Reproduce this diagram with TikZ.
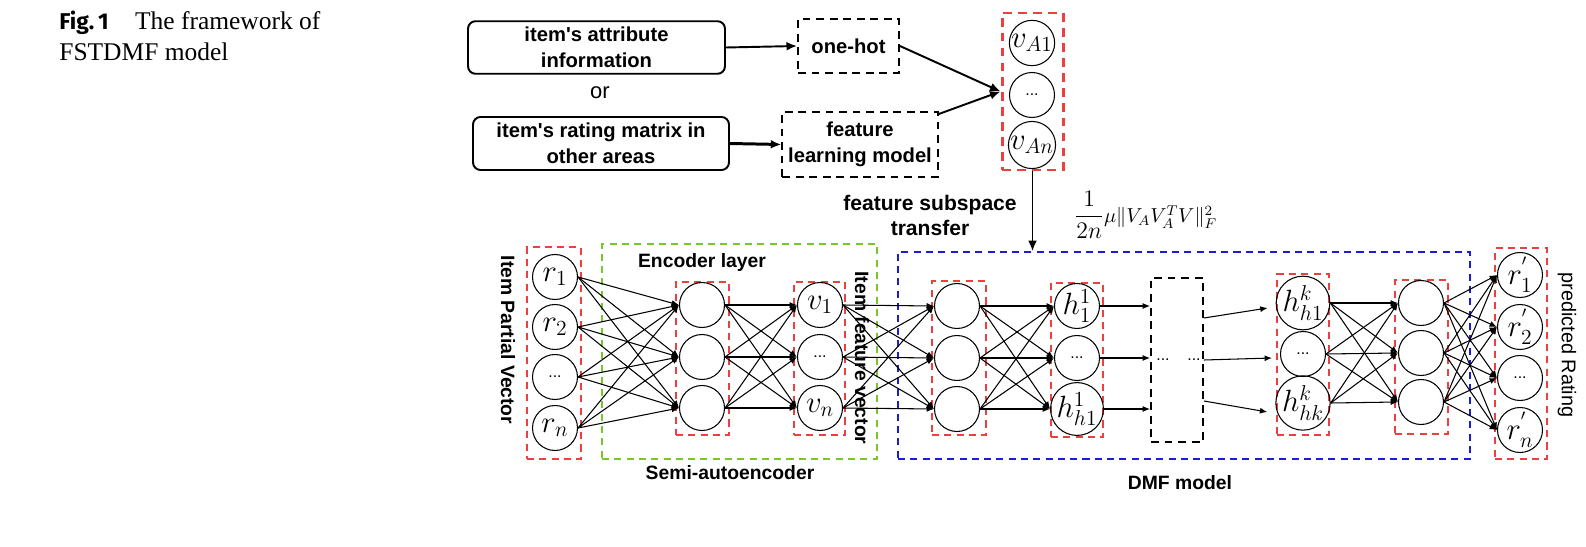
\RequirePackage{fix-cm}
\documentclass[tikz,border=0pt]{standalone}
\usepackage{amsmath}
\usepackage{fontspec}
\setmainfont{Liberation Serif}
\setsansfont{Liberation Sans}
\newfontfamily\figfont{Fira Sans}
\usepackage{xcolor}
\usepackage{tikz}
\usetikzlibrary{arrows.meta}
\usetikzlibrary{calc, fit}
\definecolor{grpred}{RGB}{236,64,64}
\definecolor{grpgreen}{RGB}{118,200,40}
\definecolor{grpblue}{RGB}{28,28,210}
\newcommand{\ndots}{{\sffamily\fontsize{9}{10}\selectfont...}}
\newcommand{\apos}{\textquotesingle}
\tikzset{
  neuron/.style={circle, draw, line width=0.6pt, minimum size=0.9cm, inner sep=0pt, font=\fontsize{17.5}{20}\selectfont},
  arr/.style={line width=0.6pt, -{Latex[length=4.2pt, width=3.4pt]}},
  toparr/.style={line width=1.1pt, -{Latex[length=6pt, width=5pt]}},
  txtbox/.style={draw, rounded corners=0.15cm, line width=1.1pt, align=center, font=\sffamily\bfseries\fontsize{11.5}{14.8}\selectfont},
  dashbox/.style={draw, dash pattern=on 4.5pt off 3.2pt, line width=1.1pt, align=center, font=\sffamily\bfseries\fontsize{11.5}{14.8}\selectfont},
  grp/.style={draw, dash pattern=on 4pt off 3pt, line width=1pt, inner sep=0pt},
  lbl/.style={font=\sffamily\bfseries\fontsize{11}{13}\selectfont, align=center},
}

\begin{document}
\begin{tikzpicture}[x=0.02cm, y=-0.02cm]
\useasboundingbox (0,0) rectangle (1586,547);
% caption
\node[anchor=base west, inner sep=0pt, font=\fontsize{14.5}{17.6}\selectfont] (cap1) at (59,30) {{\figfont\bfseries\fontsize{13}{15}\selectfont Fig.\,1}\hspace{15pt}The framework of};
\node[anchor=base west, inner sep=0pt, font=\fontsize{14.5}{17.6}\selectfont] (cap2) at (59,61) {FSTDMF model};
% input sources
\node[txtbox, minimum width=5.14cm, minimum height=1.02cm] (attr) at (596.5,47.5) {item\apos s attribute\\information};
\node[font=\sffamily\fontsize{12.5}{14}\selectfont] (or) at (600,93) {or};
\node[txtbox, minimum width=5.12cm, minimum height=1.06cm] (rate) at (601,143.5) {item\apos s rating matrix in\\other areas};
\node[dashbox, minimum width=2.02cm, minimum height=1.08cm] (onehot) at (848.5,46) {one-hot};
\node[dashbox, minimum width=3.08cm, minimum height=1.3cm] (flm) at (860,144.5) {feature\\learning model};
\draw[toparr] (attr.east) -- (onehot.west);
\draw[toparr, line width=1.7pt] (rate.east) -- (flm.west);
% item feature subspace
\node[grp, draw=grpred, line width=1.7pt, dash pattern=on 5pt off 3.5pt, fit={(1002,13) (1063,170)}] (va) {};
\foreach \y/\t [count=\i] in {43/{$v_{A1}$}, 95/{\ndots}, 145/{$v_{An}$}}
  \node[neuron] (va-\i) at (1032,\y) {\t};
\draw[toparr] (onehot.east) -- (va.west);
\draw[toparr] ($(flm.north east)+(0,3)$) -- (va.west);
\node[lbl, font=\sffamily\bfseries\fontsize{12}{14.2}\selectfont] (fst) at (930,215) {feature subspace\\transfer};
\node[anchor=west, inner sep=0pt] (loss) at (1074,215) {{\fontsize{13.5}{15}\selectfont$\displaystyle\frac{1}{2n}$}{\fontsize{11.5}{14}\selectfont$\mu\|V_AV_A^TV\|_F^2$}};
% groups
\node[grp, draw=grpred, fit={(527,247) (581,459)}] (rbox) {};
\node[grp, draw=grpgreen, line width=0.9pt, fit={(602,244) (877,459)}] (sae) {};
\node[grp, draw=grpred, fit={(676,282) (729,435)}] (ebox) {};
\node[grp, draw=grpred, fit={(794,282) (845,435)}] (vbox) {};
\node[grp, draw=grpblue, line width=0.9pt, fit={(898,252) (1470,459)}] (dmf) {};
\node[grp, draw=grpred, fit={(932,281) (986,435)}] (dbox) {};
\node[grp, draw=grpred, fit={(1051,283) (1103,437)}] (h1box) {};
\node[grp, draw=black, line width=1.1pt, dash pattern=on 4.5pt off 3.2pt, fit={(1151,278) (1203,442)}] (blk) {};
\node[grp, draw=grpred, fit={(1277,274) (1329,435)}] (hkbox) {};
\node[grp, draw=grpred, fit={(1395,280) (1448,434)}] (obox) {};
\node[grp, draw=grpred, fit={(1495,248) (1547,459)}] (rpbox) {};
\draw[toparr] (va.south) -- (va.south |- dmf.north);
% labels
\node[lbl, rotate=-90] (ipv) at (508,340) {Item Partial Vector};
\node[lbl, rotate=-90] (ifv) at (862,358) {Item feature vector};
\node[lbl] (enc) at (702,263) {Encoder layer};
\node[lbl] (semi) at (730,473) {Semi-autoencoder};
\node[lbl] (dmfl) at (1180,483) {DMF model};
\node[font=\sffamily\fontsize{11.3}{13}\selectfont, rotate=-90] (pr) at (1567,345) {predicted Rating};
\node[font=\sffamily\fontsize{9}{10}\selectfont] (dl) at (1163,360) {...};
\node[font=\sffamily\fontsize{9}{10}\selectfont] (dr) at (1194,360) {...};
% neurons
\foreach \y/\t [count=\i] in {277/{$r_1$}, 327/{$r_2$}, 377/{\ndots}, 428/{$r_n$}}
  \node[neuron] (r-\i) at (555,\y) {\t};
\foreach \y [count=\i] in {305,357,408} {
  \node[neuron] (e-\i) at (702,\y) {};
  \node[neuron] (d-\i) at (957,\y+1) {};
}
\foreach \y/\t [count=\i] in {305/{$v_1$}, 357/{\ndots}, 408/{$v_n$}}
  \node[neuron] (v-\i) at (820,\y) {\t};
\foreach \y/\t [count=\i] in {306/{$h_1^1$}, 358/{\ndots}, 409/{$h_{h1}^1$}}
  \node[neuron] (h-\i) at (1077,\y) {\t};
\foreach \y/\t [count=\i] in {303/{$h_{h1}^k$}, 354/{\ndots}, 403/{$h_{hk}^k$}}
  \node[neuron] (k-\i) at (1303,\y) {\t};
\foreach \y [count=\i] in {303,353,402}
  \node[neuron] (o-\i) at (1421,\y) {};
\foreach \y/\t [count=\i] in {275/{$r^{'}_1$}, 327/{$r^{'}_2$}, 378/{\ndots}, 430/{$r^{'}_n$}}
  \node[neuron] (p-\i) at (1520,\y) {\t};
% connections
\foreach \i in {1,...,4}
  \foreach \j in {1,2,3} {
    \draw[arr] (r-\i.east) -- (e-\j.west);
    \draw[arr] (o-\j.east) -- (p-\i.west);
  }
\foreach \i in {1,2,3}
  \foreach \j in {1,2,3} {
    \draw[arr] (e-\i.east) -- (v-\j.west);
    \draw[arr] (v-\i.east) -- (d-\j.west);
    \draw[arr] (d-\i.east) -- (h-\j.west);
    \draw[arr] (k-\i.east) -- (o-\j.west);
  }
\foreach \i in {1,2,3}
  \draw[arr] (h-\i.east) -- (blk.west |- h-\i);
\foreach \i/\a/\b in {1/-42/5, 2/0/4, 3/41/9}
  \draw[arr] ($(blk.east)+(0,\a)$) -- ($(k-\i.west)+(-8,\b)$);
\end{tikzpicture}
\end{document}
